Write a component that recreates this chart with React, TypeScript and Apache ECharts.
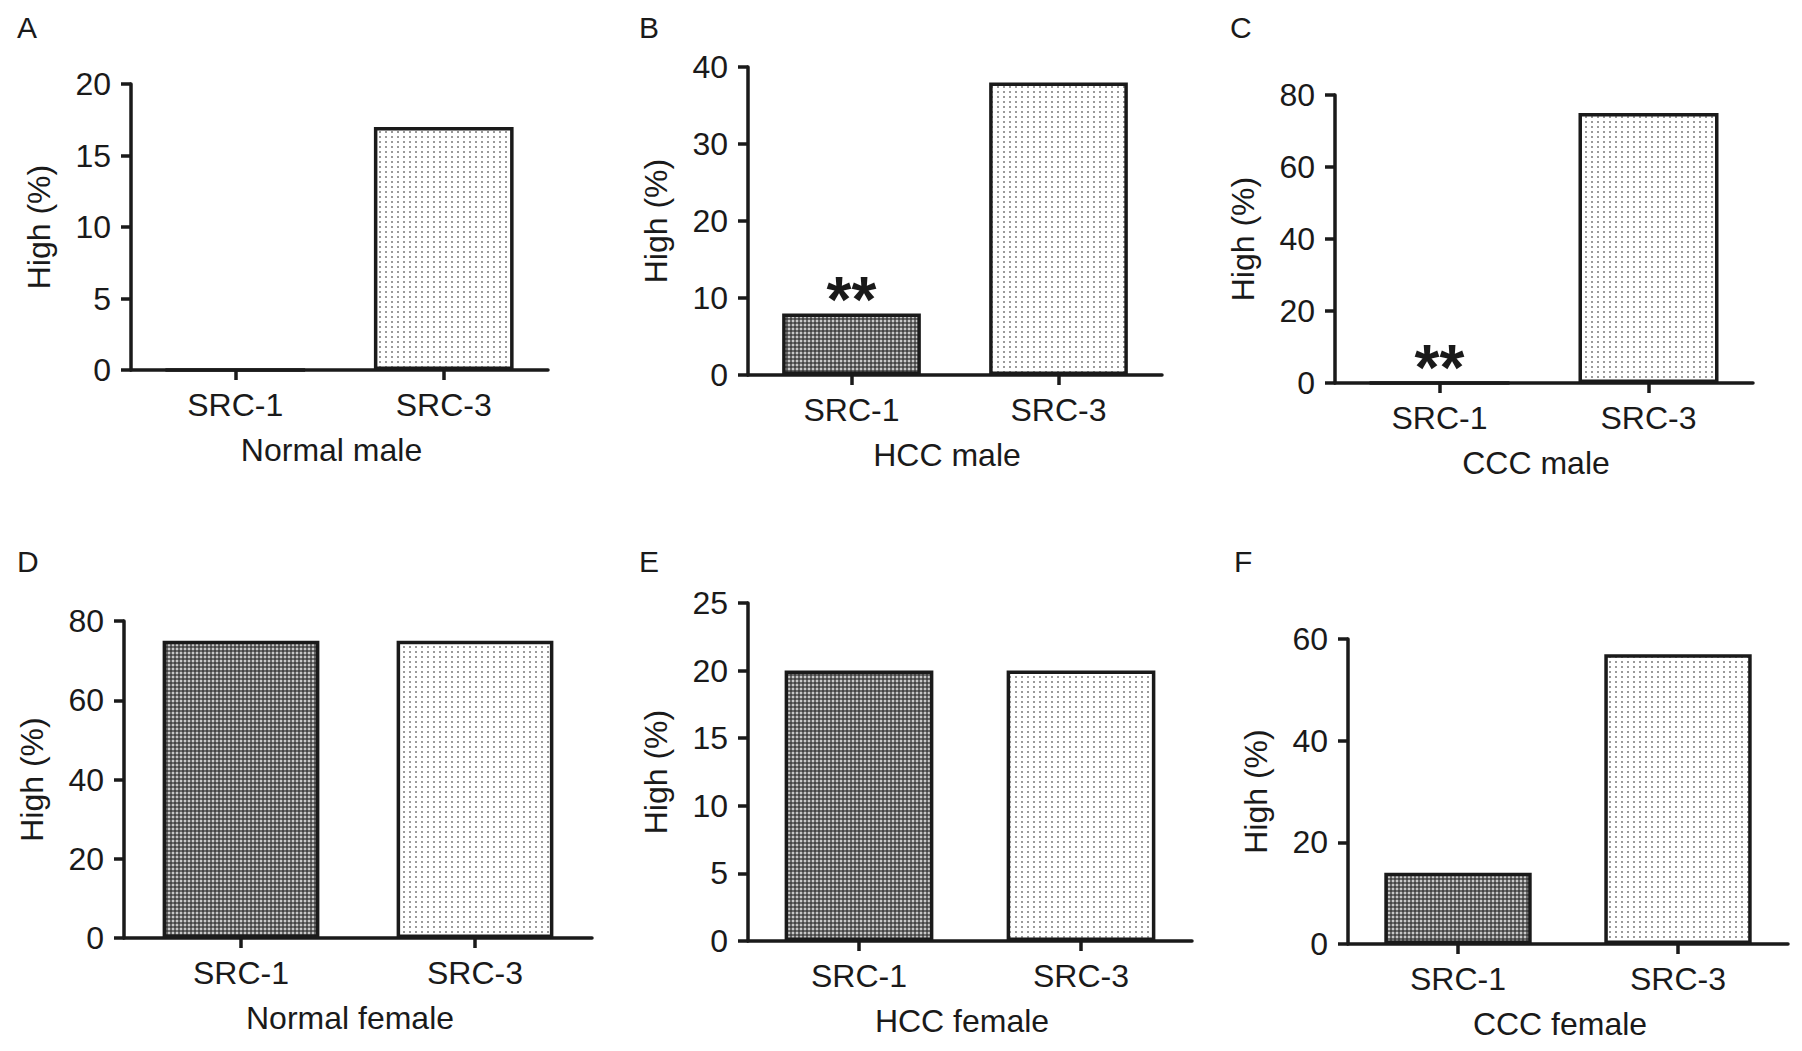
import React, { useEffect, useRef } from "react";
import * as echarts from "echarts";

// ---- data ----
const categories = ["SRC-1", "SRC-3"];
const panelLetters = ["A", "B", "C", "D", "E", "F"];
const groupNames = ["Normal male", "HCC male", "CCC male", "Normal female", "HCC female", "CCC female"];
const normalMale = [0, 17];
const hccMale = [8, 38];
const cccMale = [0, 75];
const normalFemale = [75, 75];
const hccFemale = [20, 20];
const cccFemale = [14, 57];
const panelValues = [normalMale, hccMale, cccMale, normalFemale, hccFemale, cccFemale];
const yMaxes = [20, 40, 80, 80, 25, 60];
const yIntervals = [5, 10, 20, 20, 5, 20];
const significance = [
  ["", ""],
  ["**", ""],
  ["**", ""],
  ["", ""],
  ["", ""],
  ["", ""],
];

// ---- layout (pixels) ----
const grids = [
  { left: 131, top: 84, width: 417, height: 286 },
  { left: 748, top: 67, width: 414, height: 308 },
  { left: 1335, top: 95, width: 418, height: 288 },
  { left: 124, top: 621, width: 468, height: 317 },
  { left: 748, top: 603, width: 444, height: 338 },
  { left: 1348, top: 639, width: 440, height: 305 },
];
const letterPos = [
  [17, 12],
  [639, 12],
  [1230, 12],
  [17, 546],
  [639, 546],
  [1234, 546],
];

const FONT = '"Liberation Sans", Arial, Helvetica, sans-serif';
const INK = "#1a1a1a";

function makePattern(kind: "dark" | "light") {
  const c = document.createElement("canvas");
  if (kind === "dark") {
    c.width = 4;
    c.height = 4;
    const g = c.getContext("2d")!;
    g.fillStyle = "#6a6a6a";
    g.fillRect(0, 0, 4, 4);
    g.fillStyle = "#c8c8c8";
    g.fillRect(0, 0, 2, 2);
    g.fillStyle = "#454545";
    g.fillRect(2, 2, 2, 2);
  } else {
    c.width = 6;
    c.height = 5;
    const g = c.getContext("2d")!;
    g.fillStyle = "#ffffff";
    g.fillRect(0, 0, 6, 5);
    g.fillStyle = "#9a9a9a";
    g.fillRect(1, 1, 2, 2);
  }
  return {
    image: c.toDataURL(),
    repeat: "repeat",
    imageWidth: c.width,
    imageHeight: c.height,
  } as any;
}

export default function App() {
  const ref = useRef<HTMLDivElement>(null);
  useEffect(() => {
    if (!ref.current) return;
    const chart = echarts.init(ref.current, undefined, { renderer: "svg" });
    const dark = makePattern("dark");
    const light = makePattern("light");
    const fills = [dark, light];

    const option: any = {
      animation: false,
      backgroundColor: "#ffffff",
      textStyle: { fontFamily: FONT },
      grid: grids.map((g) => ({ ...g, containLabel: false })),
      xAxis: grids.map((_, i) => ({
        type: "category",
        gridIndex: i,
        data: categories,
        name: groupNames[i],
        nameLocation: "middle",
        nameGap: 64,
        nameTextStyle: { fontSize: 32, color: INK, fontFamily: FONT, padding: [0, 16, 0, 0] },
        axisLine: { show: true, lineStyle: { color: INK, width: 3.5 } },
        axisTick: { show: true, alignWithLabel: true, length: 10, lineStyle: { color: INK, width: 3.5 } },
        axisLabel: { fontSize: 32, color: INK, margin: 19, fontFamily: FONT },
        splitLine: { show: false },
      })),
      yAxis: grids.map((_, i) => ({
        type: "value",
        gridIndex: i,
        min: 0,
        max: yMaxes[i],
        interval: yIntervals[i],
        name: "High (%)",
        nameLocation: "middle",
        nameGap: 76,
        nameTextStyle: { fontSize: 32, color: INK, fontFamily: FONT },
        axisLine: { show: true, lineStyle: { color: INK, width: 3.5 } },
        axisTick: { show: true, length: 10, lineStyle: { color: INK, width: 3.5 } },
        axisLabel: { fontSize: 32, color: INK, margin: 20, fontFamily: FONT },
        splitLine: { show: false },
      })),
      series: panelValues.map((vals, i) => ({
        type: "bar",
        xAxisIndex: i,
        yAxisIndex: i,
        barWidth: "67%",
        data: vals.map((v, j) => ({
          value: v,
          itemStyle: { color: fills[j], borderColor: INK, borderWidth: 3.5 },
        })),
        label: {
          show: true,
          position: "top",
          distance: -2,
          fontSize: 64,
          lineHeight: 30,
          fontWeight: "bold",
          color: INK,
          fontFamily: FONT,
          formatter: (p: any) => significance[i][p.dataIndex],
        },
      })),
      graphic: panelLetters.map((t, i) => ({
        type: "text",
        left: letterPos[i][0],
        top: letterPos[i][1],
        style: { text: t, fontSize: 30, fill: INK, fontFamily: FONT },
      })),
    };
    chart.setOption(option);
    return () => chart.dispose();
  }, []);
  return (
    <div
      ref={ref}
      style={{ position: "absolute", left: 0, top: 0, width: 1802, height: 1051, background: "#fff" }}
    />
  );
}
